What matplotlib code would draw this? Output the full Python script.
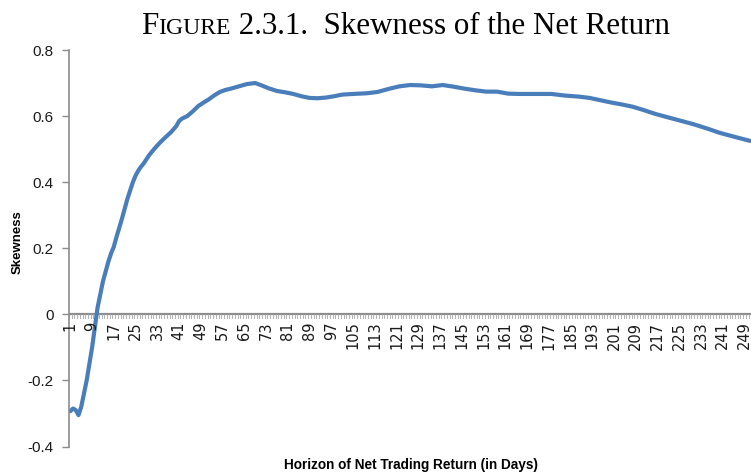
import numpy as np
import matplotlib
matplotlib.use("Agg")
import matplotlib.pyplot as plt

# ---------------- data ----------------
days = [1, 2, 3, 4, 5, 6, 7, 8, 9, 10, 11, 12, 13, 14, 15, 16, 17, 18, 19, 20,
        21, 22, 23, 24, 25, 26, 27, 28, 30, 32, 34, 36, 38, 40, 41, 42, 44, 46,
        48, 50, 52, 54, 56, 58, 60, 63, 66, 69, 71, 74, 77, 80, 83, 86, 89, 92,
        95, 98, 101, 105, 110, 114, 118, 122, 126, 130, 134, 138, 142, 146, 150,
        154, 158, 162, 166, 172, 178, 183, 188, 192, 196, 200, 204, 208, 212,
        216, 220, 225, 230, 235, 240, 245, 251]
skew = [-0.293, -0.285, -0.290, -0.305, -0.280, -0.240, -0.200, -0.150, -0.100,
        -0.040, 0.020, 0.060, 0.100, 0.130, 0.160, 0.185, 0.205, 0.235, 0.262,
        0.290, 0.320, 0.350, 0.375, 0.400, 0.420, 0.435, 0.447, 0.457, 0.482,
        0.502, 0.520, 0.536, 0.551, 0.570, 0.585, 0.592, 0.600, 0.614, 0.630,
        0.641, 0.651, 0.663, 0.673, 0.679, 0.683, 0.690, 0.697, 0.700, 0.694,
        0.684, 0.676, 0.672, 0.667, 0.660, 0.655, 0.654, 0.656, 0.660, 0.665,
        0.667, 0.669, 0.673, 0.682, 0.690, 0.694, 0.693, 0.690, 0.694, 0.689,
        0.683, 0.678, 0.674, 0.674, 0.668, 0.667, 0.667, 0.667, 0.662, 0.659,
        0.655, 0.648, 0.641, 0.635, 0.628, 0.618, 0.607, 0.598, 0.587, 0.576,
        0.563, 0.549, 0.538, 0.525]
n_cat = 251
x_labels = list(range(1, 250, 8))
y_ticks = [-0.4, -0.2, 0, 0.2, 0.4, 0.6, 0.8]
y_ticklabels = ["-0.4", "-0.2", "0", "0.2", "0.4", "0.6", "0.8"]

# ---------------- plot ----------------
fig = plt.figure(figsize=(7.51, 4.76), dpi=100)
ax = fig.add_axes([69 / 751, 29.5 / 476, 682 / 751, 396.5 / 476])

ax.plot(days, skew, color="#4a7ebb", lw=3.0, solid_capstyle="round")

ax.set_xlim(0.5, 251.4)
ax.set_ylim(-0.4, 0.8)

grey = "#8c8c8c"
for s in ["top", "right", "bottom"]:
    ax.spines[s].set_visible(False)
ax.spines["left"].set_color(grey)
ax.spines["left"].set_linewidth(1.2)

# category axis drawn at y = 0
ax.axhline(0, color=grey, lw=1.6, zorder=1)
ax.set_xticks([])
for b in np.arange(0.5, n_cat + 1, 1.0):
    ax.plot([b, b], [0, -0.012], color="#a6a6a6", lw=0.6, zorder=1,
            clip_on=False)
for d in x_labels:
    ax.text(d, -0.022, str(d), rotation=90, ha="center", va="top",
            fontsize=10.5, family="DejaVu Sans", color="#1a1a1a")

ax.set_yticks(y_ticks)
ax.set_yticklabels(y_ticklabels, family="Liberation Sans")
ax.tick_params(axis="y", direction="out", length=5, width=1.0, color=grey,
               labelsize=11, pad=6, labelcolor="#1a1a1a")

fig.text(18 / 751, 1 - 242 / 476, "Skewness", rotation=90, ha="center",
         va="center", fontsize=9.5, fontweight="bold", family="Liberation Sans")
fig.text(411 / 751, 1 - 465 / 476, "Horizon of Net Trading Return (in Days)",
         ha="center", va="center", fontsize=9.8, fontweight="bold",
         family="Liberation Sans")

# title with small caps "FIGURE"
pieces = [("F", 22.3), ("IGURE", 17), (" 2.3.1.  Skewness of the Net Return", 22.3)]
fig.canvas.draw()
r = fig.canvas.get_renderer()
texts = []
for s, fs in pieces:
    t = fig.text(0, 1 - 34 / 476, s, fontsize=fs, family="Liberation Serif",
                 va="baseline", ha="left")
    texts.append(t)
widths = [t.get_window_extent(r).width for t in texts]
x0 = 405.5 - sum(widths) / 2
for t, w in zip(texts, widths):
    t.set_x(x0 / 751)
    x0 += w

fig.savefig("out.png", dpi=100)
